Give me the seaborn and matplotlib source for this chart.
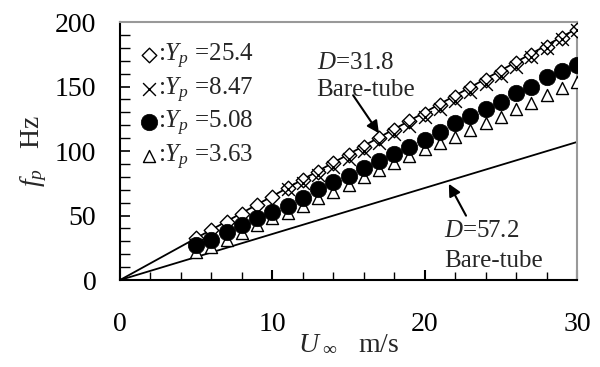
import matplotlib
matplotlib.use("Agg")
import matplotlib.pyplot as plt
import seaborn as sns
import pandas as pd
from matplotlib.ticker import MultipleLocator

# ---- data ----
u_all = [5, 6, 7, 8, 9, 10, 11, 12, 13, 14, 15, 16, 17, 18, 19, 20,
         21, 22, 23, 24, 25, 26, 27, 28, 29, 30]
f_yp254 = [32.5, 39, 45, 51.5, 58, 64.5, 71, 77.5, 84, 90.5, 97, 103.5, 110,
           116.5, 123, 129, 135.5, 142, 148.5, 155, 161.5, 168, 174.5, 181,
           187.5, 194]
u_x = [11, 12, 13, 14, 15, 16, 17, 18, 19, 20, 21, 22, 23, 24, 25, 26, 27,
       28, 29, 30]
f_yp847 = [70.5, 75.5, 81.5, 87.5, 94, 100, 106.5, 113, 119.5, 126, 132.5,
           139, 145.5, 152, 158.5, 165.5, 172.5, 179.5, 186.5, 193.5]
f_yp508 = [27, 31, 37, 42.5, 48, 53, 57.5, 63.5, 70.5, 76, 81, 87, 92, 97.5,
           103, 108.5, 115, 122, 127, 132.5, 138, 145, 150, 157.5, 162, 166.5]
f_yp363 = [22, 25.8, 31, 36.7, 42.6, 48, 52, 57.4, 63.5, 68.5, 73.6, 80, 85,
           90.7, 96, 101.5, 106, 111, 116, 121.7, 126.6, 132.6, 137, 143.4,
           148.8, 153.7]
u_line = [0, 30]
f_bare318 = [0, 195]
f_bare572 = [0, 107]
labels = [r":$Y_p$ =25.4", r":$Y_p$ =8.47", r":$Y_p$ =5.08", r":$Y_p$ =3.63"]

sns.set_style("ticks")
plt.rcParams['font.family'] = ['Liberation Serif', 'DejaVu Serif']
plt.rcParams['mathtext.fontset'] = 'custom'
plt.rcParams['mathtext.rm'] = 'Liberation Serif'
plt.rcParams['mathtext.it'] = 'Liberation Serif:italic'
plt.rcParams['mathtext.cal'] = 'Liberation Serif'

fig = plt.figure(figsize=(6, 3.67), dpi=100)
ax = fig.add_axes([0.2, 0.237, 0.7617, 0.703])

sns.lineplot(x=u_line, y=f_bare318, ax=ax, color='black', lw=1.3)
sns.lineplot(x=u_line, y=f_bare572, ax=ax, color='black', lw=1.3)

h1 = ax.scatter(u_all, f_yp254, marker='D', s=55, facecolor='white',
                edgecolor='black', linewidth=1.0, zorder=3)
h2 = ax.scatter(u_x, f_yp847, marker='x', s=85, color='black',
                linewidth=1.0, zorder=4)
h4 = ax.scatter(u_all, f_yp363, marker='^', s=75, facecolor='white',
                edgecolor='black', linewidth=1.0, zorder=5)
h3 = ax.scatter(u_all, f_yp508, marker='o', s=140, facecolor='black',
                edgecolor='black', linewidth=0.5, zorder=6)

ax.set_xlim(0, 30)
ax.set_ylim(0, 200)
ax.xaxis.set_major_locator(MultipleLocator(10))
ax.xaxis.set_minor_locator(MultipleLocator(2))
ax.yaxis.set_major_locator(MultipleLocator(50))
ax.yaxis.set_minor_locator(MultipleLocator(10))
ax.tick_params(axis='both', which='both', direction='in', colors='black',
               labelsize=20)
ax.tick_params(axis='x', which='major', length=7, width=1.5, pad=23)
ax.tick_params(axis='x', which='minor', length=6, width=1.0)
ax.tick_params(axis='y', which='major', length=7, width=1.2, pad=17)
ax.tick_params(axis='y', which='minor', length=7, width=1.0)

for s in ['left', 'bottom']:
    ax.spines[s].set_color('black')
    ax.spines[s].set_linewidth(1.5)
for s in ['top', 'right']:
    ax.spines[s].set_color('#999999')
    ax.spines[s].set_linewidth(1.5)

ax.set_xlabel(r"$U_{\ \infty}$   m/s", fontsize=20, labelpad=-4)
ax.set_ylabel(r"$f_p$   Hz", fontsize=20, labelpad=4)

leg = ax.legend([h1, h2, h3, h4], labels, loc='upper left', frameon=False,
                fontsize=18, handletextpad=-0.2, handlelength=1.1,
                labelspacing=0.18, borderaxespad=0.2,
                bbox_to_anchor=(0.0, 0.98))

ax.text(12.9, 168, r"$D$=31.8", fontsize=18, va='center', ha='left')
ax.text(12.9, 147, "Bare-tube", fontsize=18, va='center', ha='left')
ax.annotate("", xy=(17.1, 112), xytext=(15.2, 145),
            arrowprops=dict(arrowstyle='-|>', color='black', lw=1.5,
                            mutation_scale=18))

ax.text(21.3, 38, r"$D$=57.2", fontsize=18, va='center', ha='left')
ax.text(21.3, 15, "Bare-tube", fontsize=18, va='center', ha='left')
ax.annotate("", xy=(21.5, 76.5), xytext=(22.8, 48),
            arrowprops=dict(arrowstyle='-|>', color='black', lw=1.5,
                            mutation_scale=18))

fig.savefig("out.png", dpi=100)
